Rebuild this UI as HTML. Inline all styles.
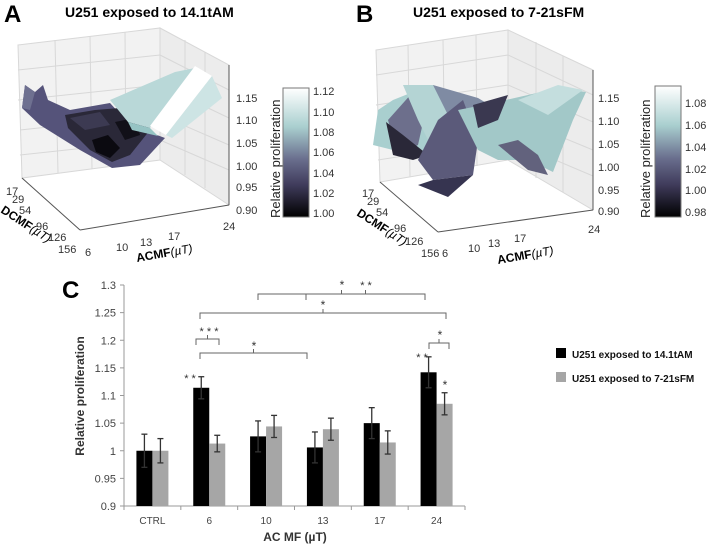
<!DOCTYPE html>
<html><head><meta charset="utf-8"><style>
body{margin:0;background:#fff;width:709px;height:549px;overflow:hidden;font-family:"Liberation Sans",sans-serif}
svg text{font-family:"Liberation Sans",sans-serif}
</style></head><body>
<svg width="709" height="549" viewBox="0 0 709 549">
<defs>
<linearGradient id="cm" x1="0" y1="0" x2="0" y2="1">
<stop offset="0" stop-color="#ffffff"/><stop offset="0.3" stop-color="#a9cfcf"/><stop offset="0.55" stop-color="#6a6f8e"/><stop offset="0.75" stop-color="#403c5c"/><stop offset="1" stop-color="#000"/>
</linearGradient>
</defs>
<!-- Panel A -->
<g>
<text x="4" y="22" font-size="24" font-weight="bold">A</text>
<text x="65" y="17" font-size="14" font-weight="bold">U251 exposed to 14.1tAM</text>
<g stroke="#d8d8d8" stroke-width="1" fill="none">
<polygon points="18,45 160,28 160,160 22,178" fill="#f2f2f2"/>
<polygon points="160,28 229,65 229,205 160,160" fill="#ececec"/>
<line x1="55" y1="40" x2="58" y2="173"/><line x1="90" y1="36" x2="92" y2="169"/><line x1="125" y1="32" x2="126" y2="165"/>
<line x1="18" y1="70" x2="160" y2="55"/><line x1="18" y1="100" x2="160" y2="85"/><line x1="20" y1="130" x2="160" y2="115"/><line x1="20" y1="155" x2="160" y2="140"/>
<line x1="160" y1="55" x2="229" y2="90"/><line x1="160" y1="85" x2="229" y2="118"/><line x1="160" y1="115" x2="229" y2="145"/><line x1="160" y1="140" x2="229" y2="170"/>
<line x1="185" y1="40" x2="185" y2="175"/><line x1="205" y1="52" x2="205" y2="188"/>
</g>
<g stroke="#555" stroke-width="1" fill="none"><line x1="22" y1="178" x2="80" y2="230"/><line x1="80" y1="230" x2="229" y2="205"/><line x1="229" y1="65" x2="229" y2="205"/></g>
<g stroke="none">
<polygon points="22,108 25,85 35,92 43,85 48,100 70,110 110,103 130,125 165,138 140,165 112,168 80,150 40,125" fill="#55537a"/>
<polygon points="22,108 25,85 35,92 30,110" fill="#6e7090"/>
<polygon points="65,115 95,110 120,108 145,110 150,130 130,155 112,162 90,150 68,128" fill="#2a2838"/>
<polygon points="70,118 100,112 110,125 85,130" fill="#3c3a52"/>
<polygon points="92,140 108,135 120,148 110,158 96,152" fill="#0b0a10"/>
<polygon points="115,122 135,118 140,135 125,140" fill="#111018"/>
<polygon points="110,100 175,72 195,68 150,128 128,122" fill="#b9d8d8"/>
<polygon points="128,122 150,128 158,136 132,130" fill="#96c4c4"/>
<polygon points="150,126 195,66 212,76 166,135" fill="#ffffff"/>
<polygon points="166,135 212,76 222,98 172,138" fill="#cde4e4"/>
</g>
<g font-size="11" fill="#333">
<text x="236" y="102">1.15</text><text x="236" y="124">1.10</text><text x="236" y="147">1.05</text><text x="236" y="170">1.00</text><text x="236" y="191">0.95</text><text x="236" y="214">0.90</text>
</g>
<g font-size="11" fill="#333">
<text x="6" y="195">17</text><text x="12" y="203">29</text><text x="19" y="214">54</text><text x="36" y="230">96</text><text x="48" y="241">126</text><text x="58" y="253">156</text>
<text x="85" y="256">6</text><text x="116" y="251">10</text><text x="140" y="246">13</text><text x="168" y="240">17</text><text x="223" y="230">24</text>
</g>
<text x="0" y="212" font-size="12" font-weight="bold" transform="rotate(33 0 212)">DCMF<tspan font-weight="normal" font-style="italic">(µT)</tspan></text>
<text x="137" y="262" font-size="12" font-weight="bold" transform="rotate(-10 137 262)">ACMF<tspan font-weight="normal" font-style="italic">(µT)</tspan></text>
<rect x="283" y="88" width="26" height="129" fill="url(#cm)" stroke="#777"/>
<g font-size="11" fill="#333">
<text x="313" y="95">1.12</text><text x="313" y="116">1.10</text><text x="313" y="136">1.08</text><text x="313" y="156">1.06</text><text x="313" y="177">1.04</text><text x="313" y="197">1.02</text><text x="313" y="217">1.00</text>
</g>
<text x="280" y="218" font-size="13" fill="#222" transform="rotate(-90 280 218)">Relative proliferation</text>
</g>
<!-- Panel B -->
<g transform="translate(358,0)">
<text x="-2" y="22" font-size="24" font-weight="bold">B</text>
<text x="55" y="17" font-size="14" font-weight="bold">U251 exposed to 7-21sFM</text>
<g stroke="#d8d8d8" stroke-width="1" fill="none">
<polygon points="18,50 150,30 150,160 22,182" fill="#f2f2f2"/>
<polygon points="150,30 235,70 235,210 150,160" fill="#ececec"/>
<line x1="50" y1="45" x2="52" y2="177"/><line x1="85" y1="40" x2="87" y2="172"/><line x1="118" y1="35" x2="119" y2="166"/>
<line x1="18" y1="75" x2="150" y2="55"/><line x1="18" y1="105" x2="150" y2="85"/><line x1="20" y1="135" x2="150" y2="115"/><line x1="20" y1="160" x2="150" y2="140"/>
<line x1="150" y1="55" x2="235" y2="95"/><line x1="150" y1="85" x2="235" y2="122"/><line x1="150" y1="115" x2="235" y2="150"/><line x1="150" y1="140" x2="235" y2="176"/>
<line x1="178" y1="42" x2="178" y2="178"/><line x1="205" y1="56" x2="205" y2="192"/>
</g>
<g stroke="#555" stroke-width="1" fill="none"><line x1="22" y1="182" x2="80" y2="232"/><line x1="80" y1="232" x2="235" y2="210"/><line x1="235" y1="70" x2="235" y2="210"/></g>
<g stroke="none">
<polygon points="15,145 20,110 35,100 55,92 75,110 90,120 100,130 60,155 35,150" fill="#a9cfcf"/>
<polygon points="30,120 55,92 70,100 60,145 40,155" fill="#6d6f8c"/>
<polygon points="28,122 45,135 70,155 55,160 35,155" fill="#2a2838"/>
<polygon points="45,85 75,85 95,95 88,130 70,140 60,120" fill="#b4d4d4"/>
<polygon points="75,85 120,98 140,110 115,120 90,115" fill="#7f8ba3"/>
<polygon points="80,120 105,100 120,140 115,175 75,180 60,160" fill="#5b5a7a"/>
<polygon points="75,180 115,175 90,197 60,185" fill="#363450"/>
<polygon points="100,110 125,105 170,95 200,88 228,92 215,120 195,172 170,160 140,160 120,150" fill="#a2c8c8"/>
<polygon points="115,105 150,95 140,120 120,128" fill="#3a3850"/>
<polygon points="140,145 160,140 180,155 190,175 170,170" fill="#62627d"/>
<polygon points="160,100 200,85 225,90 190,115" fill="#c4dede"/>
</g>
<g font-size="11" fill="#333">
<text x="240" y="102">1.15</text><text x="240" y="125">1.10</text><text x="240" y="148">1.05</text><text x="240" y="171">1.00</text><text x="240" y="194">0.95</text><text x="240" y="215">0.90</text>
<text x="4" y="197">17</text><text x="9" y="205">29</text><text x="18" y="216">54</text><text x="36" y="232">96</text><text x="47" y="245">126</text><text x="63" y="257">156</text>
<text x="84" y="257">6</text><text x="110" y="252">10</text><text x="130" y="247">13</text><text x="156" y="242">17</text><text x="230" y="233">24</text>
</g>
<text x="-2" y="215" font-size="12" font-weight="bold" transform="rotate(33 -2 215)">DCMF<tspan font-weight="normal" font-style="italic">(µT)</tspan></text>
<text x="140" y="264" font-size="12" font-weight="bold" transform="rotate(-10 140 264)">ACMF<tspan font-weight="normal" font-style="italic">(µT)</tspan></text>
<rect x="297" y="86" width="26" height="131" fill="url(#cm)" stroke="#777"/>
<g font-size="11" fill="#333">
<text x="327" y="107">1.08</text><text x="327" y="129">1.06</text><text x="327" y="151">1.04</text><text x="327" y="173">1.02</text><text x="327" y="194">1.00</text><text x="327" y="216">0.98</text>
</g>
<text x="292" y="218" font-size="13" fill="#222" transform="rotate(-90 292 218)">Relative proliferation</text>
</g>
<!-- Panel C -->
<g id="chartC">
<text x="62" y="298" font-size="24" font-weight="bold">C</text>
</g>
</svg>
<script>
const categories=["CTRL","6","10","13","17","24"];
const series1=[1.0,1.114,1.026,1.006,1.05,1.142];
const series2=[1.0,1.013,1.044,1.039,1.015,1.085];
const err1=[0.03,0.02,0.028,0.028,0.028,0.028];
const err2=[0.022,0.015,0.02,0.02,0.021,0.02];
const yTicks=[0.9,0.95,1,1.05,1.1,1.15,1.2,1.25,1.3];
const yLabels=["0.9","0.95","1","1.05","1.1","1.15","1.2","1.25","1.3"];
const NS="http://www.w3.org/2000/svg";
const g=document.getElementById('chartC');
const X0=124,X1=465,Y0=506,Y1=285,ymin=0.9,ymax=1.3;
const cw=(X1-X0)/categories.length;
function y(v){return Y0-(v-ymin)/(ymax-ymin)*(Y0-Y1);}
function xc(i){return X0+cw*(i+0.5);}
function mk(t,a){const e=document.createElementNS(NS,t);for(const k in a)e.setAttribute(k,a[k]);g.appendChild(e);return e;}
let ax=mk('line',{x1:X0,y1:Y1,x2:X0,y2:Y0,stroke:'#999'});


let bx=mk('line',{x1:X0,y1:Y0,x2:X1,y2:Y0,stroke:'#999'});


yTicks.forEach((v,i)=>{
 mk('line',{x1:X0-4,y1:y(v),x2:X0,y2:y(v),stroke:'#999'});
 const t=mk('text',{x:X0-8,y:y(v)+4,'font-size':11,'text-anchor':'end',fill:'#444'});t.textContent=yLabels[i];
 
 
});
for(let i=0;i<=categories.length;i++)mk('line',{x1:X0+cw*i,y1:Y0,x2:X0+cw*i,y2:Y0+4,stroke:'#999'});
categories.forEach((c,i)=>{
 const t=mk('text',{x:xc(i),y:524,'font-size':10,'text-anchor':'middle',fill:'#444'});t.textContent=c;
 
 
 const b1=mk('rect',{x:xc(i)-16,y:y(series1[i]),width:16,height:Y0-y(series1[i]),fill:'#000'});
 
 
 const b2=mk('rect',{x:xc(i),y:y(series2[i]),width:16,height:Y0-y(series2[i]),fill:'#a6a6a6'});
 
 
 [[xc(i)-8,series1[i],err1[i]],[xc(i)+8,series2[i],err2[i]]].forEach(([x,v,e])=>{
  mk('line',{x1:x,y1:y(v+e),x2:x,y2:y(v-e),stroke:'#333','stroke-width':1.3});
  mk('line',{x1:x-3,y1:y(v+e),x2:x+3,y2:y(v+e),stroke:'#333','stroke-width':1.3});
  mk('line',{x1:x-3,y1:y(v-e),x2:x+3,y2:y(v-e),stroke:'#333','stroke-width':1.3});
 });
});
function txt(x,yy,s,fs,extra){const t=mk('text',Object.assign({x:x,y:yy,'font-size':fs,'text-anchor':'middle',fill:'#333'},extra||{}));t.textContent=s;return t;}
function br(xa,xb,yy,label,mid){mid=mid||(xa+xb)/2;mk('path',{d:`M${xa},${yy+6} L${xa},${yy} L${xb},${yy} L${xb},${yy+6} M${mid},${yy} L${mid},${yy-4}`,stroke:'#666',fill:'none'});}
br(258,425,294);br(306,425,294);
txt(342,289,'*',12);txt(366,289,'* *',11);
br(200,446,313);txt(323,309,'*',12);
br(196,219,339);txt(209,335,'* * *',11);
br(200,307,353);txt(254,350,'*',12);
br(429,449,343);txt(440,339,'*',12);
txt(190,382,'* *',11);txt(422,361,'* *',11);txt(445,389,'*',12);
const yt=txt(84,396,'Relative proliferation',12,{'font-weight':'bold',transform:'rotate(-90 84 396)'});


const xt=txt(295,541,'AC MF (µT)',12,{'font-weight':'bold'});


const l1=mk('rect',{x:556,y:348,width:10,height:10,fill:'#000'});


const l2=mk('rect',{x:556,y:372,width:10,height:10,fill:'#a6a6a6'});


const lt1=mk('text',{x:572,y:358,'font-size':10,'font-weight':'bold',fill:'#111'});lt1.textContent='U251 exposed to 14.1tAM';


const lt2=mk('text',{x:572,y:382,'font-size':10,'font-weight':'bold',fill:'#111'});lt2.textContent='U251 exposed to 7-21sFM';


</script>
</body></html>
